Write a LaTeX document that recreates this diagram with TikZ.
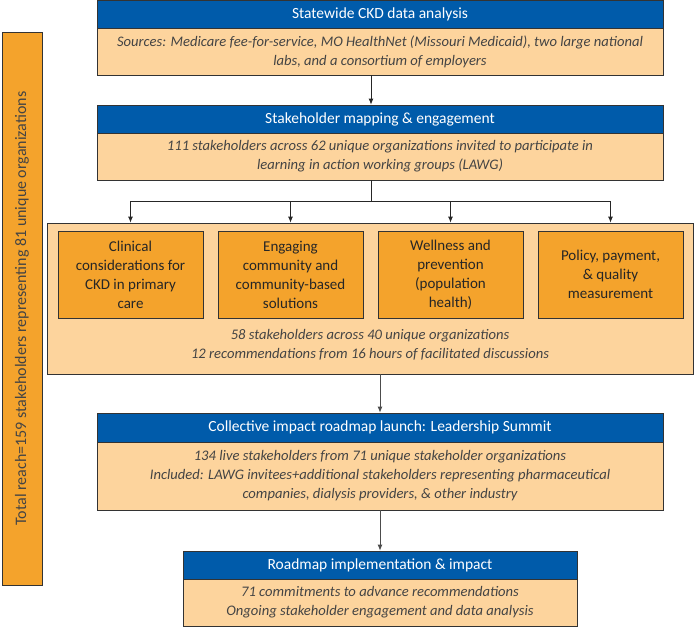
\documentclass[tikz,border=0pt]{standalone}
\usepackage{fontspec}
\setmainfont{Carlito}
\usetikzlibrary{arrows.meta}
\definecolor{hdblue}{HTML}{005BAA}
\definecolor{lightorange}{HTML}{FDD49D}
\definecolor{boxorange}{HTML}{F4A32C}
\definecolor{txtgray}{HTML}{444444}
\tikzset{
  header/.style={draw=black!80, fill=hdblue, text=white, inner sep=0pt,
    font=\fontsize{15.5}{18}\selectfont},
  body/.style={draw=black!80, fill=lightorange, text=txtgray, inner sep=0pt,
    align=center, font=\fontsize{14.6}{19}\selectfont\itshape},
  topic/.style={draw=black!80, fill=boxorange, text=black!85, inner sep=0pt,
    minimum width=145pt, minimum height=87pt, align=center,
    font=\fontsize{15}{19}\selectfont},
}
\begin{document}
\begin{tikzpicture}[x=1pt, y=-1pt, >={Latex[length=6pt,width=5pt]}, line width=.8pt]
    \useasboundingbox (0,0) rectangle (695,627);
    % total reach bar
    \node[draw=black!80, fill=boxorange, text=txtgray, rotate=90, minimum width=553pt,
      minimum height=40pt, inner sep=0pt, font=\fontsize{16}{18}\selectfont] (reach) at (22,308.5)
      {Total reach=159 stakeholders representing 81 unique organizations};
    % data analysis
    \node[header, minimum width=566pt, minimum height=28pt] (analysis-h) at (380,14) {Statewide CKD data analysis};
    \node[body, minimum width=566pt, minimum height=47pt] (analysis) at (380,51.5)
      {Sources: Medicare fee-for-service, MO HealthNet (Missouri Medicaid), two large national\\labs, and a consortium of employers};
    % stakeholder mapping
    \node[header, minimum width=566pt, minimum height=28pt] (mapping-h) at (380,119) {Stakeholder mapping \& engagement};
    \node[body, minimum width=566pt, minimum height=47pt] (mapping) at (380,156.5)
      {111 stakeholders across 62 unique organizations invited to participate in\\learning in action working groups (LAWG)};
    % learning in action working groups
    \node[draw=black!80, fill=lightorange, minimum width=646pt, minimum height=151pt, inner sep=0pt] (lawg) at (370,298.5) {};
    \node[topic] (clin) at (130.5,274.5) {Clinical\\considerations for\\CKD in primary\\care};
    \node[topic] (comm) at (290.5,274.5) {Engaging\\community and\\community-based\\solutions};
    \node[topic] (well) at (450.5,274.5) {Wellness and\\prevention\\(population\\health)};
    \node[topic] (pol) at (610.5,274.5) {Policy, payment,\\\& quality\\measurement};
    \node[text=txtgray, align=center, font=\fontsize{14.6}{19}\selectfont\itshape] (lawg-txt) at (370,345)
      {58 stakeholders across 40 unique organizations\\12 recommendations from 16 hours of facilitated discussions};
    % leadership summit
    \node[header, minimum width=566pt, minimum height=29pt] (summit-h) at (380,427.5) {Collective impact roadmap launch: Leadership Summit};
    \node[body, minimum width=566pt, minimum height=68pt] (summit) at (380,476)
      {134 live stakeholders from 71 unique stakeholder organizations\\Included: LAWG invitees+additional stakeholders representing pharmaceutical\\companies, dialysis providers, \& other industry};
    % implementation
    \node[header, minimum width=394pt, minimum height=28pt] (roadmap-h) at (380,565) {Roadmap implementation \& impact};
    \node[body, minimum width=394pt, minimum height=47pt] (roadmap) at (380,602.5)
      {71 commitments to advance recommendations\\Ongoing stakeholder engagement and data analysis};
    % connectors
    \coordinate (fork) at (371,201);
    \draw[->, black!85] ([xshift=-9pt]analysis.south) -- ([xshift=-9pt]mapping-h.north);
    \draw[black!85] ([xshift=-9pt]mapping.south) -- (fork);
    \draw[black!85] (clin |- fork) -- (pol |- fork);
    \foreach \t in {clin,comm,well,pol}
      \draw[->, black!85] (\t |- fork) -- (\t |- lawg.north);
    \draw[->, black!70] (lawg.south -| summit-h) -- (summit-h.north);
    \draw[->, black!70] (summit.south) -- (roadmap-h.north);
\end{tikzpicture}
\end{document}
